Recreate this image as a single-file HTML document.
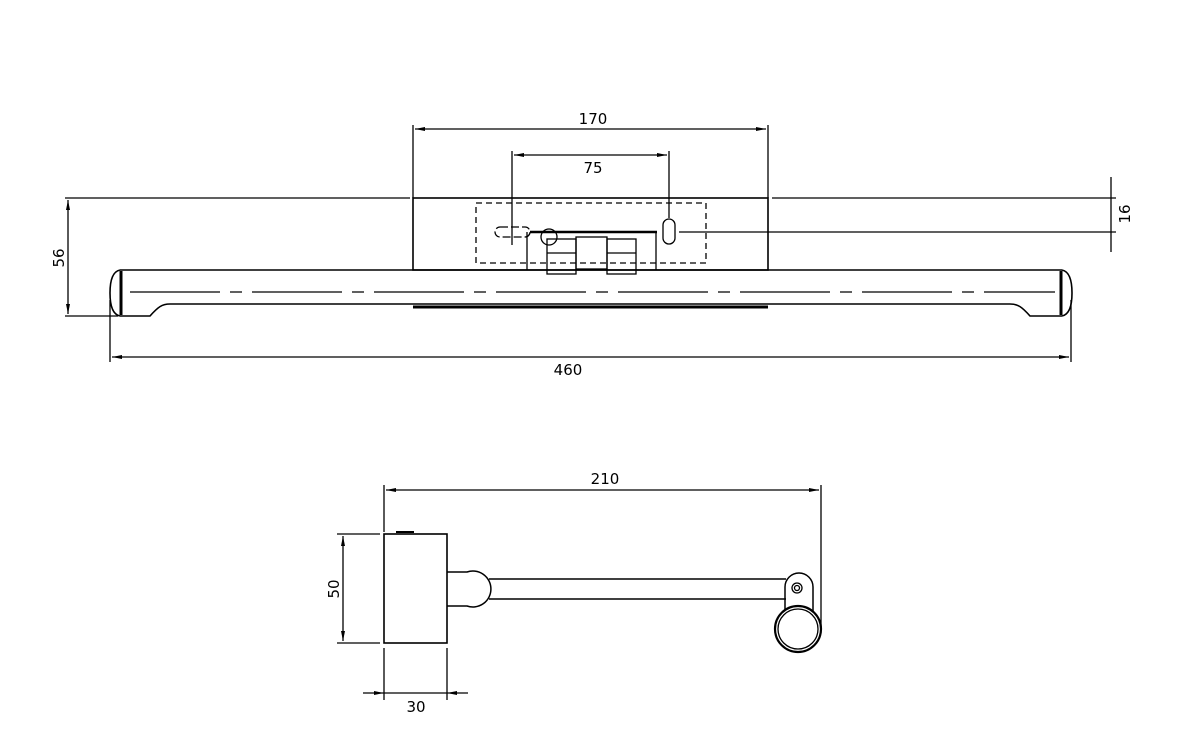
<!DOCTYPE html>
<html><head><meta charset="utf-8"><style>
html,body{margin:0;padding:0;background:#fff;}
svg{display:block;}
text{font-family:"DejaVu Sans","Liberation Sans",sans-serif;font-size:15px;fill:#000;}
</style></head><body>
<svg width="1200" height="737" viewBox="0 0 1200 737" xmlns="http://www.w3.org/2000/svg">
<defs>
<marker id="a" viewBox="0 0 10 4" refX="10" refY="2" markerWidth="10" markerHeight="4" orient="auto-start-reverse" markerUnits="userSpaceOnUse"><path d="M0,0 L10,2 L0,4z" fill="#000"/></marker>
</defs>
<g fill="none" stroke="#000" stroke-width="1.3">
<line x1="413" y1="125" x2="413" y2="198"/><line x1="768" y1="125" x2="768" y2="198"/>
<line x1="415" y1="129" x2="766" y2="129" marker-start="url(#a)" marker-end="url(#a)"/>
<line x1="512" y1="151" x2="512" y2="245"/><line x1="669" y1="151" x2="669" y2="218"/>
<line x1="514" y1="155" x2="667" y2="155" marker-start="url(#a)" marker-end="url(#a)"/>
<line x1="65" y1="198" x2="410" y2="198"/><line x1="772" y1="198" x2="1116" y2="198"/>
<line x1="68" y1="200" x2="68" y2="314" marker-start="url(#a)" marker-end="url(#a)"/>
<line x1="65" y1="316" x2="118" y2="316"/>
<line x1="679" y1="232" x2="1116" y2="232"/>
<line x1="1111" y1="177" x2="1111" y2="252"/>
<line x1="110" y1="300" x2="110" y2="362"/><line x1="1071" y1="300" x2="1071" y2="362"/>
<line x1="112" y1="357" x2="1069" y2="357" marker-start="url(#a)" marker-end="url(#a)"/>
<rect x="413" y="198" width="355" height="72" stroke-width="1.6"/>
<rect x="476" y="203" width="230" height="60" stroke-dasharray="6,4"/>
<rect x="495" y="227" width="35" height="10" rx="5" stroke-dasharray="8,3"/>
<line x1="530" y1="232" x2="657" y2="232" stroke-width="2.5"/>
<circle cx="549" cy="237" r="8"/>
<rect x="663" y="219" width="12" height="25" rx="6"/>
<line x1="527" y1="232" x2="527" y2="270"/><line x1="656" y1="232" x2="656" y2="270"/>
<rect x="547" y="239" width="29" height="35"/><line x1="547" y1="253" x2="576" y2="253"/>
<rect x="607" y="239" width="29" height="35"/><line x1="607" y1="253" x2="636" y2="253"/>
<rect x="576" y="237" width="31" height="32"/>
<path d="M120,270 L1062,270 M120,316 L150,316 C158,307 162,304 170,304 L1010,304 C1018,304 1022,307 1030,316 L1062,316" stroke-width="1.6"/>
<path d="M120,270 Q110,272 110,293 Q110,314 120,316 M1062,270 Q1072,272 1072,293 Q1072,314 1062,316" stroke-width="1.6"/>
<line x1="121" y1="271" x2="121" y2="315" stroke-width="3"/><line x1="1061" y1="271" x2="1061" y2="315" stroke-width="3"/>
<line x1="130" y1="292" x2="1055" y2="292" stroke-dasharray="90,10,12,10"/>
<line x1="413" y1="307" x2="768" y2="307" stroke-width="3"/>
<line x1="384" y1="485" x2="384" y2="532"/><line x1="821" y1="485" x2="821" y2="628"/>
<line x1="386" y1="490" x2="819" y2="490" marker-start="url(#a)" marker-end="url(#a)"/>
<line x1="337" y1="534" x2="380" y2="534"/><line x1="337" y1="643" x2="380" y2="643"/>
<line x1="343" y1="536" x2="343" y2="641" marker-start="url(#a)" marker-end="url(#a)"/>
<line x1="384" y1="648" x2="384" y2="700"/><line x1="447" y1="648" x2="447" y2="700"/>
<line x1="363" y1="693" x2="468" y2="693"/>
<path d="M384,693 L374,691 L374,695z M447,693 L457,691 L457,695z" fill="#000" stroke="none"/>
<rect x="384" y="534" width="63" height="109" stroke-width="1.6"/>
<line x1="396" y1="532" x2="414" y2="532" stroke-width="2"/>
<path d="M447,572 L467,572 A18,18 0 1 1 467,606 L447,606" stroke-width="1.5"/>
<line x1="489" y1="579" x2="786" y2="579" stroke-width="1.5"/><line x1="489" y1="599" x2="786" y2="599" stroke-width="1.5"/>
<path d="M785,610 L785,587 A14,14 0 0 1 813,587 L813,612" stroke-width="1.5"/>
<circle cx="797" cy="588" r="5"/><circle cx="797" cy="588" r="2.5"/>
<circle cx="798" cy="629" r="23" stroke-width="2.2"/><circle cx="798" cy="629" r="20"/>
</g>
<text x="593" y="124" text-anchor="middle">170</text>
<text x="593" y="173" text-anchor="middle">75</text>
<text x="568" y="375" text-anchor="middle">460</text>
<text x="605" y="484" text-anchor="middle">210</text>
<text x="416" y="712" text-anchor="middle">30</text>
<text transform="translate(64,258) rotate(-90)" text-anchor="middle">56</text>
<text transform="translate(339,589) rotate(-90)" text-anchor="middle">50</text>
<text transform="translate(1130,214) rotate(-90)" text-anchor="middle">16</text>
</svg>
</body></html>
